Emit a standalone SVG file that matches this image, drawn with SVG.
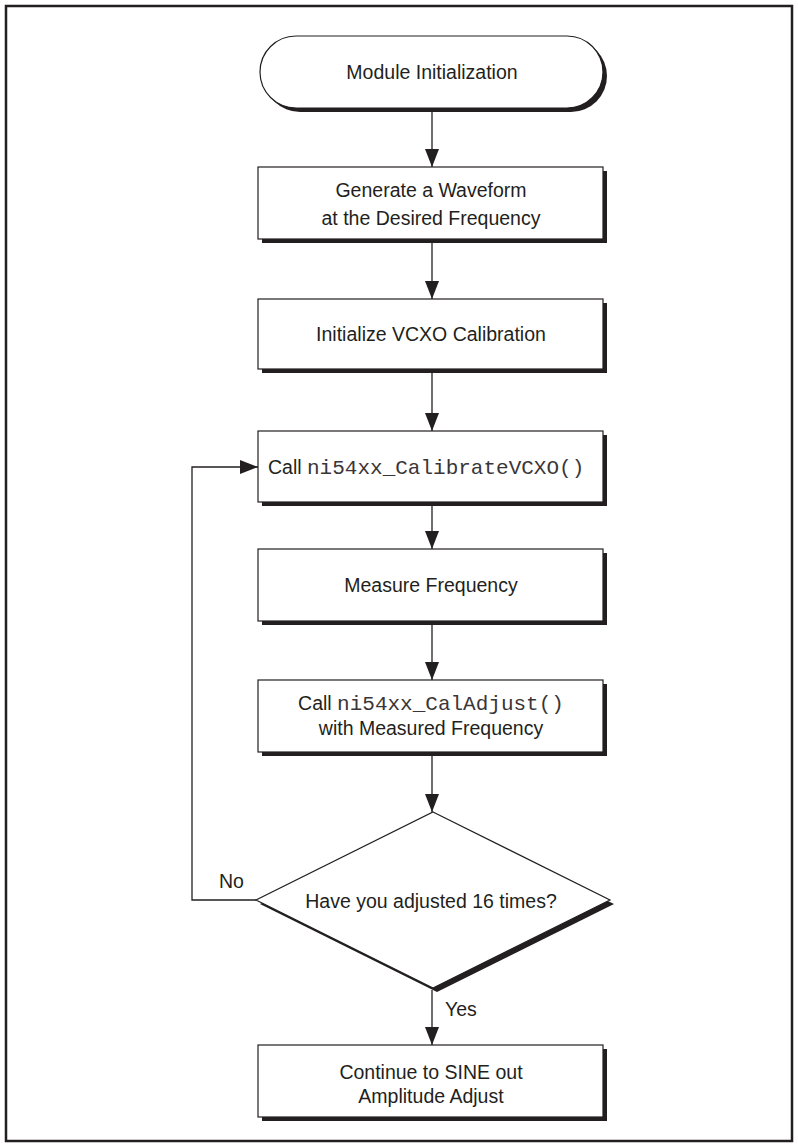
<svg xmlns="http://www.w3.org/2000/svg" width="798" height="1147" viewBox="0 0 798 1147">
<style>
.frame{fill:#fff;stroke:#231f20;stroke-width:2.5}
.shadow{fill:#231f20;stroke:none}
.box{fill:#fff;stroke:#231f20;stroke-width:1.2}
.t{font-family:"Liberation Sans",Arial,sans-serif;font-size:19.5px;fill:#231f20;text-anchor:middle}
.tl{font-family:"Liberation Sans",Arial,sans-serif;font-size:19.5px;fill:#231f20}
.m{font-family:"Liberation Mono","Courier New",monospace;font-size:21px;fill:#3a3637}
.line{fill:none;stroke:#231f20;stroke-width:1.3}
</style>
<defs>
<marker id="ah" viewBox="0 0 18 14" refX="18" refY="7" markerWidth="18" markerHeight="14" markerUnits="userSpaceOnUse" orient="auto">
<path d="M0,0 L18,7 L0,14 Z" fill="#231f20"/>
</marker>
</defs>
<rect class="frame" x="6" y="6" width="786" height="1135"/>

<g id="connectors">
<line class="line" x1="432" y1="112" x2="432" y2="167" marker-end="url(#ah)"/>
<line class="line" x1="432" y1="243" x2="432" y2="299" marker-end="url(#ah)"/>
<line class="line" x1="432" y1="373" x2="432" y2="431" marker-end="url(#ah)"/>
<line class="line" x1="432" y1="506" x2="432" y2="549" marker-end="url(#ah)"/>
<line class="line" x1="432" y1="625" x2="432" y2="680" marker-end="url(#ah)"/>
<line class="line" x1="432" y1="756" x2="432" y2="812" marker-end="url(#ah)"/>
<line class="line" x1="432" y1="990" x2="432" y2="1045" marker-end="url(#ah)"/>
<polyline class="line" points="256,900 192,900 192,467 258,467" marker-end="url(#ah)"/>
<text class="tl" x="219" y="888">No</text>
<text class="tl" x="445" y="1016">Yes</text>
</g>

<g id="start">
<rect class="shadow" x="264" y="40" width="343" height="72" rx="36"/>
<rect class="box" x="260" y="36" width="343" height="72" rx="36"/>
<text class="t" x="432" y="79">Module Initialization</text>
</g>

<g id="generate">
<rect class="shadow" x="262" y="171" width="345" height="72"/>
<rect class="box" x="258" y="167" width="345" height="72"/>
<text class="t" x="431" y="197">Generate a Waveform</text>
<text class="t" x="431" y="225">at the Desired Frequency</text>
</g>

<g id="init-vcxo">
<rect class="shadow" x="262" y="303" width="345" height="70"/>
<rect class="box" x="258" y="299" width="345" height="70"/>
<text class="t" x="431" y="341">Initialize VCXO Calibration</text>
</g>

<g id="calibrate">
<rect class="shadow" x="262" y="435" width="345" height="71"/>
<rect class="box" x="258" y="431" width="345" height="71"/>
<text class="tl" x="268" y="474">Call <tspan class="m">ni54xx_CalibrateVCXO()</tspan></text>
</g>

<g id="measure">
<rect class="shadow" x="262" y="553" width="345" height="72"/>
<rect class="box" x="258" y="549" width="345" height="72"/>
<text class="t" x="431" y="592">Measure Frequency</text>
</g>

<g id="caladjust">
<rect class="shadow" x="262" y="684" width="345" height="72"/>
<rect class="box" x="258" y="680" width="345" height="72"/>
<text class="t" x="431" y="710">Call <tspan class="m">ni54xx_CalAdjust()</tspan></text>
<text class="t" x="431" y="735">with Measured Frequency</text>
</g>

<g id="decision">
<polygon class="shadow" points="433,816 614,904 437,992 260,904"/>
<polygon class="box" points="433,812 610,900 433,988 256,900"/>
<text class="t" x="431" y="908">Have you adjusted 16 times?</text>
</g>

<g id="continue">
<rect class="shadow" x="262" y="1049" width="345" height="72"/>
<rect class="box" x="258" y="1045" width="345" height="72"/>
<text class="t" x="431" y="1079">Continue to SINE out</text>
<text class="t" x="431" y="1103">Amplitude Adjust</text>
</g>
</svg>
